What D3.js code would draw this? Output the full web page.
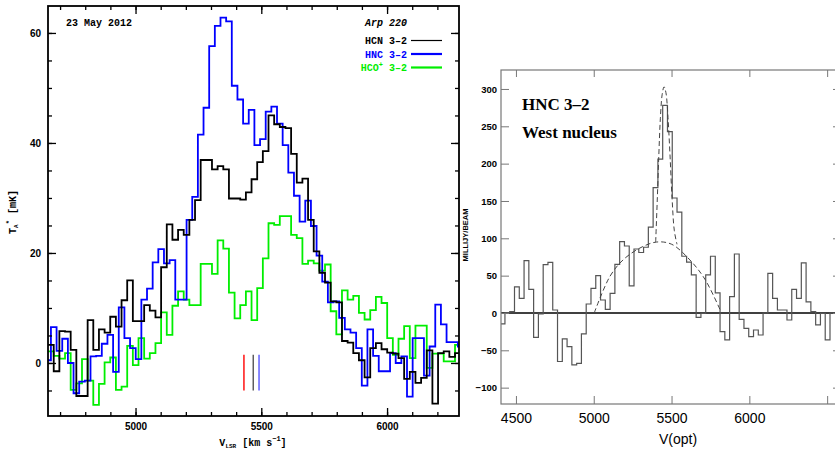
<!DOCTYPE html>
<html>
<head>
<meta charset="utf-8">
<script src="https://cdn.jsdelivr.net/npm/d3@7"></script>
<style>
  body { margin: 0; background: #fff; }
  svg { display: block; background: #fff; }
  .mono { font-family: 'Liberation Mono', 'DejaVu Sans Mono', monospace; font-weight: bold; }
  .sans { font-family: 'Liberation Sans', Arial, sans-serif; }
</style>
</head>
<body>
<svg class="chart" width="835" height="452"></svg>
<script>
'use strict';

// ---- left panel data: Arp 220, 23 May 2012 (T_A* in mK per channel) ----
var chanWidth = 22.47;          // km/s
var hcnStart = 4652.3;          // left edge of first HCN / HCO+ channel
var hncStart = 4641.2;          // HNC channels are offset by half a channel
var hcn = [3.3, -1.5, 5.8, 5.7, 2.4, -6.0, -6.0, 7.8, 2.4, 6.1, 5.5, 8.4, 6.6, 11.4, 15.0, 7.6, 7.6, 10.5, 9.5, 8.3,
           17.4, 25.2, 22.4, 24.2, 23.3, 26.0, 29.6, 36.9, 36.9, 35.2, 35.8, 35.2, 29.9, 29.9, 29.7, 31.0, 33.4, 36.5, 38.5, 45.0,
           43.4, 42.9, 42.7, 38.0, 32.8, 33.5, 26.0, 20.3, 16.4, 14.6, 11.2, 11.0, 4.0, 3.7, 1.8, 0.5, -2.6, 2.7, 3.6, 2.5,
           1.9, 1.7, 0.9, -2.9, -1.6, -3.6, -2.7, 2.3, -7.4, 1.8, 2.1, 1.1, 1.8];
var hnc = [0.5, 6.5, 2.2, 4.4, 0.0, -5.5, -3.4, -3.2, 1.2, 1.3, 3.5, 5.1, -1.6, 10.1, 4.5, 2.7, 0.7, 11.5, 13.5, 18.3,
           20.7, 18.1, 18.7, 11.5, 11.5, 26.0, 30.2, 41.5, 46.4, 57.6, 61.3, 62.8, 62.1, 50.4, 47.9, 43.5, 46.0, 39.6, 40.7, 45.7,
           46.6, 43.5, 39.6, 34.6, 30.4, 25.7, 29.5, 24.9, 19.5, 14.8, 11.0, 11.2, 8.2, 6.1, 5.5, 2.7, -4.1, 6.1, 1.3, -1.5,
           -1.5, 1.8, 0.0, 1.2, -6.1, 4.5, 4.5, -2.3, 3.0, 10.6, 7.0, 3.8, 3.8, 3.0];
var hco = [2.1, 1.3, 0.8, 1.8, -4.9, -3.7, 0.7, -3.2, -7.6, -3.8, 0.1, 1.0, -4.9, -4.3, 3.1, -0.4, 4.5, 0.8, 1.8, 3.6,
           9.2, 5.1, 10.4, 13.0, 11.5, 10.5, 10.5, 18.0, 18.0, 16.2, 22.3, 20.8, 12.8, 8.1, 10.5, 13.0, 7.8, 13.6, 19.0, 25.4,
           25.1, 26.7, 26.7, 23.3, 22.7, 18.0, 18.6, 18.1, 16.8, 17.9, 9.4, 5.2, 13.2, 11.5, 12.2, 9.1, 7.9, 9.6, 12.0, 10.9,
           4.5, 1.5, 4.4, 6.7, 0.9, 6.8, 6.8, -0.9, 1.7, 1.7, 0.3, 0.3, 3.3];
var markerVel = [5431, 5468, 5491];
var markerColors = ['#ff0000', '#555555', '#5555ff'];
var leftYMajor = [0, 20, 40, 60];
var leftXMajor = [5000, 5500, 6000];

// ---- right panel data: HNC 3-2, west nucleus (mJy/beam per channel) ----
var westWidth = 30.72;
var westStart = 4398.6;
var westHnc = [-14.7, 0.4, 1.8, 35, 19.6, 70, 31.7, -32.6, -1.3, 64.7, 67.9, 4, -65, -34.8, -45, -69.6, -67.4, -28, 12, 33,
               50, 17.4, 4.9, 26.3, 65.2, 95.5, 89.7, 36.2, 85.7, 81, 88, 115, 168, 206, 278, 243, 154, 135, 76, 68,
               51, -5.8, -0.4, 51, 76, 27, -25, -36, 22, 79, -8.5, -20.5, -31.7, -22.8, -29.5, 0, 53, 19.6, 4, 4,
               -9.4, 31.7, 19.6, 67, 15, 1.8, -16, -0.4, -36, 0, 0];
var fitBroadVel = [5003, 5104, 5188, 5297, 5404, 5501, 5618, 5715, 5815];
var fitBroadVal = [0, 49, 71, 87, 95, 92, 71, 45, 3];
var fitNarrowVel = [5398, 5408, 5418, 5428, 5440, 5452, 5464, 5477, 5490, 5503, 5518, 5535];
var fitNarrowVal = [95, 150, 210, 260, 293, 303, 295, 262, 212, 155, 110, 92];
var rightYTicks = [-100, -50, 0, 50, 100, 150, 200, 250, 300];
var rightXTicks = [4500, 5000, 5500, 6000, 6500];
var rightXLabels = [4500, 5000, 5500, 6000];   // 6500 falls off the picture

// turn a list of channel values into [edge, value] pairs for a step line
function steps(start, width, vals) {
    var pts = vals.map(function (v, i) { return [start + i * width, v]; });
    pts.push([start + vals.length * width, vals[vals.length - 1]]);
    return pts;
}

var svg = d3.select('.chart');

// =================== left panel ===================
var L = { left: 48, right: 459, top: 6, bottom: 416 };
var lx = d3.scaleLinear().domain([4652, 6286]).range([L.left, L.right]);
var ly = d3.scaleLinear().domain([-9.64, 64.9]).range([L.bottom, L.top]);

var defs = svg.append('defs');
defs.append('clipPath').attr('id', 'clipL')
    .append('rect').attr('x', L.left).attr('y', L.top)
    .attr('width', L.right - L.left).attr('height', L.bottom - L.top);

var stepLine = function (sx, sy) {
    return d3.line().curve(d3.curveStepAfter)
        .x(function (d) { return sx(d[0]); })
        .y(function (d) { return sy(d[1]); });
};
var lline = stepLine(lx, ly);

var plotL = svg.append('g').attr('clip-path', 'url(#clipL)');
plotL.append('path').datum(steps(hcnStart, chanWidth, hco))
    .attr('d', lline).attr('fill', 'none').attr('stroke', '#00ee00').attr('stroke-width', 1.8);
plotL.append('path').datum(steps(hncStart, chanWidth, hnc))
    .attr('d', lline).attr('fill', 'none').attr('stroke', '#0000ff').attr('stroke-width', 1.8);
plotL.append('path').datum(steps(hcnStart, chanWidth, hcn))
    .attr('d', lline).attr('fill', 'none').attr('stroke', '#000').attr('stroke-width', 1.8);

// little velocity markers under the lines
plotL.selectAll('line.marker').data(markerVel).enter().append('line')
    .attr('class', 'marker')
    .attr('x1', function (d) { return lx(d); }).attr('x2', function (d) { return lx(d); })
    .attr('y1', ly(1.5)).attr('y2', ly(-5))
    .attr('stroke', function (d, i) { return markerColors[i]; })
    .attr('stroke-width', 1.4);

// axes: ticks point inwards on all four sides
var lMinorX = d3.range(4700, 6201, 100);
var lMinorY = d3.range(-5, 61, 5);
function lAxes(axisFn, scale, pos, minor, major, labels) {
    var g = svg.append('g').attr('class', 'mono').attr('transform', pos);
    g.append('g').call(axisFn(scale).tickValues(minor).tickSize(-4).tickFormat(''));
    g.append('g').call(axisFn(scale).tickValues(major).tickSize(-8).tickPadding(7)
        .tickFormat(labels ? d3.format('d') : ''));
    g.selectAll('.domain').remove();
    g.selectAll('line').attr('stroke', '#000').attr('stroke-width', 1.3);
    g.selectAll('text').attr('font-size', 10).attr('fill', '#000');
    return g;
}
lAxes(d3.axisBottom, lx, 'translate(0,' + L.bottom + ')', lMinorX, leftXMajor, true);
lAxes(d3.axisTop, lx, 'translate(0,' + L.top + ')', lMinorX, leftXMajor, false);
lAxes(d3.axisLeft, ly, 'translate(' + L.left + ',0)', lMinorY, leftYMajor, true);
lAxes(d3.axisRight, ly, 'translate(' + L.right + ',0)', lMinorY, leftYMajor, false);

svg.append('rect').attr('x', L.left).attr('y', L.top)
    .attr('width', L.right - L.left).attr('height', L.bottom - L.top)
    .attr('fill', 'none').attr('stroke', '#000').attr('stroke-width', 1.8);

// labels
var txt = svg.append('g').attr('class', 'mono').attr('font-size', 10);
txt.append('text').attr('x', 66).attr('y', 26).text('23 May 2012');
txt.append('text').attr('x', 407).attr('y', 26).attr('text-anchor', 'end')
    .attr('font-style', 'italic').text('Arp 220');

var legend = [
    { name: 'HCN', color: '#000', w: 1.2 },
    { name: 'HNC', color: '#0000ff', w: 2.2 },
    { name: 'HCO', color: '#00ee00', w: 2.2 }
];
legend.forEach(function (d, i) {
    var yy = 44 + i * 13.5;
    var t = txt.append('text').attr('x', 407).attr('y', yy).attr('text-anchor', 'end')
        .attr('fill', d.color);
    t.append('tspan').text(d.name);
    if (d.name === 'HCO') {
        t.append('tspan').attr('font-size', 7).attr('dy', -4).text('+');
        t.append('tspan').attr('dy', 4).text(' 3\u20132');
    } else {
        t.append('tspan').text(' 3\u20132');
    }
    svg.append('line').attr('x1', 411).attr('x2', 442).attr('y1', yy - 3.5).attr('y2', yy - 3.5)
        .attr('stroke', d.color).attr('stroke-width', d.w);
});

var yl = txt.append('text').attr('transform', 'translate(16,212) rotate(-90)')
    .attr('text-anchor', 'middle');
yl.append('tspan').text('T');
yl.append('tspan').attr('font-size', 6).attr('dy', 2).text('A');
yl.append('tspan').attr('font-size', 7).attr('dy', -7).text('*');
yl.append('tspan').attr('dy', 5).text(' [mK]');

var xl = txt.append('text').attr('x', 253).attr('y', 446).attr('text-anchor', 'middle');
xl.append('tspan').text('V');
xl.append('tspan').attr('font-size', 6).attr('dy', 2).text('LSR');
xl.append('tspan').attr('dy', -2).text(' [km s');
xl.append('tspan').attr('font-size', 7).attr('dy', -5).text('\u22121');
xl.append('tspan').attr('dy', 5).text(']');

// =================== right panel ===================
var R = { left: 501, right: 841, top: 70, bottom: 404 };
var rx = d3.scaleLinear().domain([4404, 6589]).range([R.left, R.right]);
var ry = d3.scaleLinear().domain([-121.9, 325.4]).range([R.bottom, R.top]);

defs.append('clipPath').attr('id', 'clipR')
    .append('rect').attr('x', R.left).attr('y', R.top)
    .attr('width', R.right - R.left).attr('height', R.bottom - R.top);

var plotR = svg.append('g').attr('clip-path', 'url(#clipR)');
plotR.append('line').attr('x1', R.left).attr('x2', R.right)
    .attr('y1', ry(0)).attr('y2', ry(0)).attr('stroke', '#000').attr('stroke-width', 1.4);
plotR.append('path').datum(steps(westStart, westWidth, westHnc))
    .attr('d', stepLine(rx, ry)).attr('fill', 'none').attr('stroke', '#555').attr('stroke-width', 1.2);

var fitLine = d3.line().curve(d3.curveCatmullRom)
    .x(function (d) { return rx(d[0]); })
    .y(function (d) { return ry(d[1]); });
[[fitBroadVel, fitBroadVal], [fitNarrowVel, fitNarrowVal]].forEach(function (f) {
    plotR.append('path').datum(d3.zip(f[0], f[1]))
        .attr('d', fitLine).attr('fill', 'none')
        .attr('stroke', '#444').attr('stroke-width', 1).attr('stroke-dasharray', '5,3');
});

function rAxes(axisFn, scale, pos, ticks, len, labels, cls, size) {
    var g = svg.append('g').attr('class', cls).attr('transform', pos);
    g.call(axisFn(scale).tickValues(ticks).tickSize(-len).tickPadding(4)
        .tickFormat(function (d) { return labels && labels.indexOf(d) >= 0 ? d3.format('d')(d) : ''; }));
    g.selectAll('.domain').remove();
    g.selectAll('line').attr('stroke', '#777').attr('stroke-width', 1);
    g.selectAll('text').attr('font-size', size).attr('fill', '#000');
    return g;
}
rAxes(d3.axisBottom, rx, 'translate(0,' + R.bottom + ')', rightXTicks, 8, rightXLabels, 'sans', 14)
    .selectAll('text').attr('dy', '1.05em');
rAxes(d3.axisTop, rx, 'translate(0,' + R.top + ')', rightXTicks, 7, null, 'sans', 14);
rAxes(d3.axisLeft, ry, 'translate(' + R.left + ',0)', rightYTicks, 8, rightYTicks, 'sans', 9.5)
    .selectAll('text').attr('font-weight', 'bold');
rAxes(d3.axisRight, ry, 'translate(' + R.right + ',0)', rightYTicks, 8, null, 'sans', 9.5);

svg.append('rect').attr('x', R.left).attr('y', R.top)
    .attr('width', R.right - R.left).attr('height', R.bottom - R.top)
    .attr('fill', 'none').attr('stroke', '#777').attr('stroke-width', 1.2);

svg.append('text').attr('class', 'sans').attr('x', 678).attr('y', 444)
    .attr('text-anchor', 'middle').attr('font-size', 14).text('V(opt)');
svg.append('text').attr('class', 'sans').attr('font-weight', 'bold').attr('font-size', 7.5)
    .attr('transform', 'translate(468,235) rotate(-90)').attr('text-anchor', 'middle')
    .text('MILLIJY/BEAM');

var ttl = svg.append('g').attr('font-family', "'Liberation Serif', 'Times New Roman', serif")
    .attr('font-weight', 'bold').attr('font-size', 17);
ttl.append('text').attr('x', 522).attr('y', 110).text('HNC 3\u20132');
ttl.append('text').attr('x', 522).attr('y', 138).text('West nucleus');
</script>
</body>
</html>
